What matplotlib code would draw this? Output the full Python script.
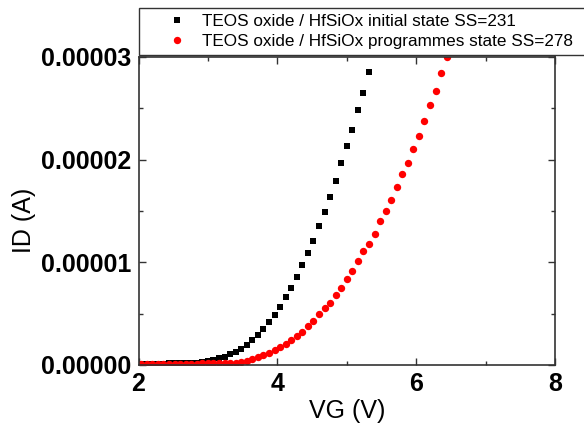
import matplotlib
matplotlib.use('Agg')
import matplotlib.pyplot as plt
from matplotlib.ticker import MultipleLocator, FormatStrFormatter

# gate voltage grid (V)
vg_init = [2.04, 2.12, 2.20, 2.28, 2.36, 2.44, 2.52, 2.60, 2.68, 2.76,
           2.84, 2.92, 3.00, 3.08, 3.16, 3.24, 3.32, 3.40, 3.48, 3.56,
           3.64, 3.72, 3.80, 3.88, 3.96, 4.04, 4.12, 4.20, 4.28, 4.36,
           4.44, 4.52, 4.60, 4.68, 4.76, 4.84, 4.92, 5.00, 5.08, 5.16,
           5.24, 5.32]
# drain current, units of 1e-5 A
id_init = [0.013, 0.013, 0.013, 0.014, 0.014, 0.015, 0.016, 0.017, 0.019, 0.021,
           0.024, 0.029, 0.039, 0.049, 0.065, 0.081, 0.104, 0.126, 0.156, 0.195,
           0.243, 0.289, 0.347, 0.415, 0.486, 0.561, 0.661, 0.752, 0.859, 0.976,
           1.092, 1.206, 1.352, 1.495, 1.637, 1.790, 1.965, 2.130, 2.289, 2.487,
           2.649, 2.850]

vg_prog = [2.04, 2.12, 2.20, 2.28, 2.36, 2.44, 2.52, 2.60, 2.68, 2.76,
           2.84, 2.92, 3.00, 3.08, 3.16, 3.24, 3.32, 3.40, 3.48, 3.56,
           3.64, 3.72, 3.80, 3.88, 3.96, 4.04, 4.12, 4.20, 4.28, 4.36,
           4.44, 4.52, 4.60, 4.68, 4.76, 4.84, 4.92, 5.00, 5.08, 5.16,
           5.24, 5.32, 5.40, 5.48, 5.56, 5.64, 5.72, 5.80, 5.88, 5.96,
           6.04, 6.12, 6.20, 6.28, 6.36, 6.44]
id_prog = [0.013, 0.013, 0.013, 0.013, 0.013, 0.013, 0.013, 0.014, 0.014, 0.014,
           0.014, 0.015, 0.015, 0.016, 0.016, 0.017, 0.018, 0.022, 0.032, 0.042,
           0.058, 0.075, 0.094, 0.117, 0.143, 0.172, 0.204, 0.240, 0.285, 0.326,
           0.376, 0.433, 0.496, 0.553, 0.608, 0.678, 0.754, 0.834, 0.914, 1.009,
           1.106, 1.179, 1.279, 1.398, 1.496, 1.608, 1.732, 1.858, 1.968, 2.101,
           2.231, 2.380, 2.536, 2.672, 2.843, 2.999]

lab_init = 'TEOS oxide / HfSiOx initial state SS=231'
lab_prog = 'TEOS oxide / HfSiOx programmes state SS=278'

plt.rcParams['font.family'] = ['Liberation Sans', 'DejaVu Sans']

fig = plt.figure(figsize=(5.84, 4.47), dpi=100)
ax = fig.add_axes([138.5/584, 82/447, 416.5/584, 308/447])

ax.plot(vg_init, [v*1e-5 for v in id_init], 's', color='black', ms=4.4, mew=0, label=lab_init)
ax.plot(vg_prog, [v*1e-5 for v in id_prog], 'o', color='red', ms=5.3, mew=0, label=lab_prog)

ax.set_xlim(2, 8)
ax.set_ylim(0, 3e-5)
ax.xaxis.set_major_locator(MultipleLocator(2))
ax.xaxis.set_minor_locator(MultipleLocator(1))
ax.yaxis.set_major_locator(MultipleLocator(1e-5))
ax.yaxis.set_minor_locator(MultipleLocator(0.5e-5))
ax.yaxis.set_major_formatter(FormatStrFormatter('%.5f'))
ax.tick_params(which='both', direction='in', top=True, right=True, width=1, color='#333333')
ax.tick_params(which='major', length=5, labelsize=18, pad=5)
ax.tick_params(which='minor', length=3)
for lbl in ax.get_xticklabels() + ax.get_yticklabels():
    lbl.set_fontweight('bold')
for s in ax.spines.values():
    s.set_linewidth(1.2)
    s.set_color('#333333')

ax.set_xlabel('VG (V)', fontsize=18)
ax.set_ylabel('ID (A)', fontsize=18)
ax.xaxis.set_label_coords(0.5, -0.11)
ax.yaxis.set_label_coords(-0.245, 0.47)

leg = fig.legend(loc='upper left', bbox_to_anchor=(139/584, 1 - 8/447, 460/584, 0.0001),
                 mode='expand', fontsize=12.3, frameon=True, fancybox=False,
                 numpoints=1, handlelength=3.74, handletextpad=-0.41, borderpad=0.35,
                 labelspacing=0.31, borderaxespad=0)
leg.get_frame().set_edgecolor('black')
leg.get_frame().set_linewidth(1.0)

fig.savefig('out.png', dpi=100)
